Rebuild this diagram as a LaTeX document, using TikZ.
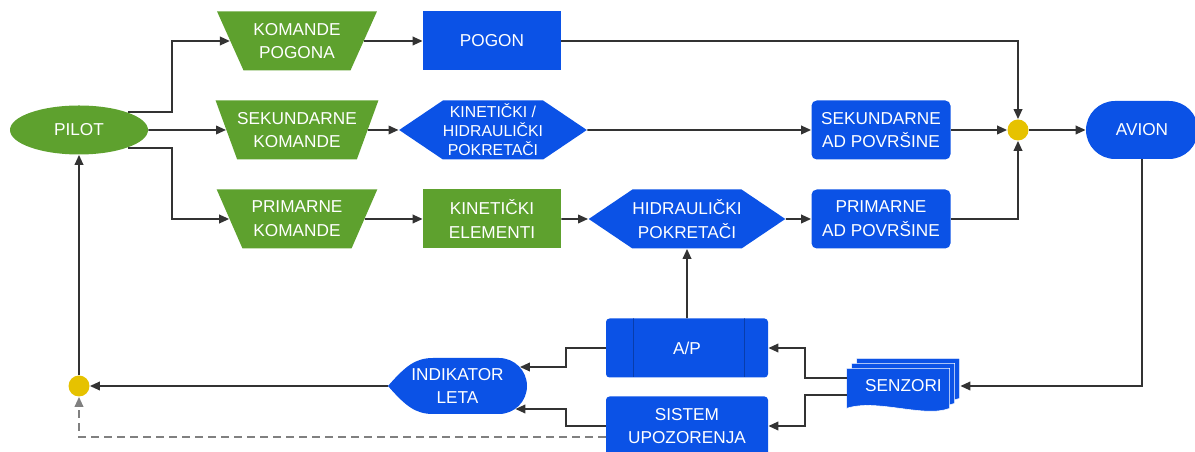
\documentclass[tikz,border=0pt]{standalone}
\usepackage{fontspec}
\setmainfont{Liberation Sans}
\usetikzlibrary{positioning,arrows.meta,shapes.geometric,shapes.symbols,shapes.misc,backgrounds}
\definecolor{ctrlgreen}{HTML}{5EA12E}
\definecolor{sysblue}{HTML}{0B52E6}
\definecolor{sumyellow}{HTML}{E6C200}
\definecolor{linegray}{HTML}{333333}

\begin{document}
\begin{tikzpicture}[font=\fontsize{9.8}{13.5}\selectfont,
  base/.style={text=white, align=center, inner sep=0pt},
  cmd/.style={base, trapezium, shape border rotate=180, trapezium stretches=true,
              trapezium left angle=59, trapezium right angle=59,
              fill=ctrlgreen, minimum width=3.22cm, minimum height=1.18cm},
  blk/.style={base, rectangle, fill=#1, minimum width=2.76cm, minimum height=1.18cm},
  rblk/.style={blk=sysblue, rounded corners=3pt, minimum width=2.78cm},
  hexa/.style={base, signal, signal to=west and east, signal pointer angle=68,
               fill=sysblue, minimum width=3.76cm, minimum height=1.18cm},
  process/.style={blk=sysblue, rounded corners=2pt, minimum width=3.24cm,
    path picture={\draw[sysblue!75!black, line width=0.4pt]
      ([xshift=0.54cm]path picture bounding box.north west) -- ([xshift=0.54cm]path picture bounding box.south west)
      ([xshift=-0.48cm]path picture bounding box.north east) -- ([xshift=-0.48cm]path picture bounding box.south east);}},
  display/.style={base, minimum width=2.78cm, minimum height=1.12cm,
    path picture={\fill[sysblue] (path picture bounding box.west)
      .. controls +(0.35,0.4) and +(-0.35,0) .. ([xshift=0.9cm]path picture bounding box.north west)
      -- ([xshift=-0.56cm]path picture bounding box.north east)
      arc[start angle=90, end angle=-90, radius=0.56cm]
      -- ([xshift=0.9cm]path picture bounding box.south west)
      .. controls +(-0.35,0) and +(0.35,-0.4) .. (path picture bounding box.west) -- cycle;}},
  sensor/.style={base, minimum width=2.26cm, minimum height=1.12cm},
  doc/.style={fill=sysblue, draw=white, line width=0.3pt},
  junction/.style={circle, fill=sumyellow, minimum size=0.42cm, inner sep=0pt},
  arr/.style={-{Triangle[length=2mm,width=1.7mm]}, draw=linegray, line width=1.1pt},
]
\useasboundingbox (0,0) rectangle (23.9,9.04);

% pilot and controls
\node[base, ellipse, fill=ctrlgreen, minimum width=2.76cm, minimum height=0.98cm] (pilot) at (1.58,6.44) {PILOT};
\node[cmd] (kpog) at (5.94,8.22) {KOMANDE\\POGONA};
\node[cmd] (skom) at (5.94,6.44) {SEKUNDARNE\\KOMANDE};
\node[cmd] (pkom) at (5.94,4.66) {PRIMARNE\\KOMANDE};

% actuation chain
\node[blk=sysblue] (pogon) at (9.84,8.22) {POGON};
\node[hexa, minimum width=3.74cm, font=\fontsize{9}{10.8}\selectfont] (kinhid) at (9.86,6.44)
  {KINETIČKI /\\HIDRAULIČKI\\POKRETAČI};
\node[blk=ctrlgreen] (kinel) at (9.84,4.66) {KINETIČKI\\ELEMENTI};
\node[hexa, minimum width=3.78cm] (hidpok) at (13.74,4.66) {HIDRAULIČKI\\POKRETAČI};
\node[rblk] (sekad) at (17.62,6.44) {SEKUNDARNE\\AD POVRŠINE};
\node[rblk] (primad) at (17.62,4.66) {PRIMARNE\\AD POVRŠINE};
\node[junction] (sum1) at (20.36,6.44) {};
\node[base, rounded rectangle, fill=sysblue, minimum width=2.24cm, minimum height=1.16cm] (avion) at (22.84,6.44) {AVION};

% feedback
\node[process] (ap) at (13.74,2.08) {A/P};
\node[rblk, rounded corners=2pt, minimum width=3.24cm] (sistem) at (13.74,0.52) {SISTEM\\UPOZORENJA};
\node[sensor] (senzori) at (18.07,1.32) {SENZORI};
\node[display] (ind) at (9.15,1.32) {INDIKATOR\\LETA};
\node[junction] (sum2) at (1.58,1.32) {};

% stacked documents behind the sensor text
\begin{scope}[on background layer]
\foreach \d in {2,1,0}
  \draw[doc] ([xshift=\d mm, yshift=\d mm]senzori.south west) ++(0,0.12) -- ++(0,0.8) -- ++(2.06,0)
    -- ++(0,-0.8) .. controls +(-0.51,-0.2) and +(0.6,0.2) .. ++(-2.06,0) -- cycle;
\end{scope}

\draw[arr] (pilot.north east) -- ++(0.88,0) |- (kpog);
\draw[arr] (pilot) -- (skom);
\draw[arr] (pilot.south east) -- ++(0.88,0) |- (pkom);
\draw[arr] (kpog) -- (pogon);
\draw[arr] (skom) -- (kinhid);
\draw[arr] (pkom) -- (kinel);
\draw[arr] (kinel) -- (hidpok);
\draw[arr] (kinhid) -- (sekad);
\draw[arr] (hidpok) -- (primad);
\draw[arr] (pogon) -| (sum1);
\draw[arr] (sekad) -- (sum1);
\draw[arr] (primad) -| (sum1);
\draw[arr] (sum1) -- (avion);
\draw[arr] (avion) |- (senzori);
\draw[arr] ([yshift=0.16cm]senzori.west) -- ++(-0.84,0) |- (ap);
\draw[arr] ([yshift=-0.18cm]senzori.west) -- ++(-0.84,0) |- (sistem);
\draw[arr] (ap) -- (hidpok);
\draw[arr] (ap.west) -- ++(-0.8,0) |- ([xshift=-0.15cm,yshift=0.38cm]ind.east);
\draw[arr] (sistem.west) -- ++(-0.8,0) |- ([xshift=-0.24cm,yshift=-0.46cm]ind.east);
\draw[arr] (ind.west) -- (sum2);
\draw[arr] (sum2) -- (pilot);
\draw[arr, draw=gray, dash pattern=on 1.6mm off 1mm] ([yshift=-0.22cm]sistem.west) -| (sum2);
\end{tikzpicture}
\end{document}
